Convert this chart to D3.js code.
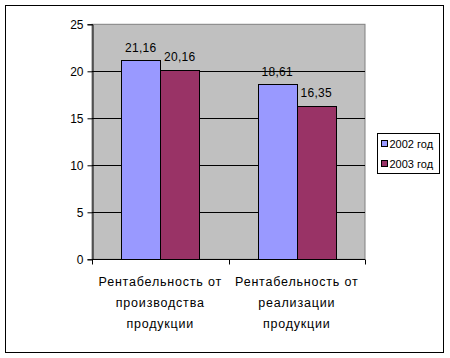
<!DOCTYPE html>
<html><head><meta charset="utf-8">
<script src="https://cdn.jsdelivr.net/npm/d3@7"></script>
<style>body{margin:0;background:#fff}svg text{font-family:"Liberation Sans",Arial,sans-serif;}</style>
</head><body>
<script>
const categories = [["Рентабельность от","производства","продукции"],["Рентабельность от","реализации","продукции"]];
const seriesNames = ["2002 год","2003 год"];
const values2002 = [21.16, 18.61];
const values2003 = [20.16, 16.35];
const labels2002 = ["21,16","18,61"];
const labels2003 = ["20,16","16,35"];
const yTicks = [0,5,10,15,20,25];
const colors = ["#9999ff","#993366"];

const W=450,H=358;
const svg=d3.select("body").append("svg").attr("width",W).attr("height",H);
svg.append("rect").attr("x",5.5).attr("y",5.5).attr("width",438).attr("height",347).attr("fill","#fff").attr("stroke","#000");

const pl=92, pr=365, pt=24.3, pb=259.3;
const x=d3.scaleBand().domain([0,1]).range([pl,pr]);
const y=d3.scaleLinear().domain([0,25]).range([pb,pt]);
const g=svg.append("g");
g.append("rect").attr("x",pl).attr("y",pt).attr("width",pr-pl).attr("height",pb-pt).attr("fill","#c0c0c0").attr("stroke","#808080");
yTicks.filter(t=>t>0&&t<25).forEach(t=>{
  g.append("line").attr("x1",pl).attr("x2",pr).attr("y1",Math.round(y(t))+0.5).attr("y2",Math.round(y(t))+0.5).attr("stroke","#000");
});
const bw=x.bandwidth()/3.5;
const series=[values2002,values2003], lbls=[labels2002,labels2003];
series.forEach((vals,si)=>{
  vals.forEach((v,ci)=>{
    const cx=x(ci)+x.bandwidth()/2;
    const bx=cx-bw+si*bw;
    g.append("rect").attr("x",Math.round(bx)+0.5).attr("y",Math.round(y(v))+0.5).attr("width",Math.round(bw)).attr("height",Math.round(y(0))-Math.round(y(v))).attr("fill",colors[si]).attr("stroke","#000");
    g.append("text").attr("x",bx+bw/2).attr("y",y(v)-8.5).attr("text-anchor","middle").attr("font-size",12).attr("letter-spacing","0.3px").text(lbls[si][ci]);
  });
});
// y axis
const ya=svg.append("g").attr("transform",`translate(${pl+0.5},0)`).call(d3.axisLeft(y).tickValues(yTicks).tickSize(5).tickPadding(4));
ya.select(".domain").attr("stroke","#000");
ya.selectAll("text").attr("font-size",12).attr("font-family","Liberation Sans, Arial, sans-serif");
// x axis
const xa=svg.append("g").attr("transform",`translate(0,${Math.round(pb)+0.5})`);
xa.append("line").attr("x1",pl).attr("x2",pr).attr("stroke","#000");
[pl,pl+x.bandwidth(),pr].forEach(v=>xa.append("line").attr("x1",Math.round(v)+0.5).attr("x2",Math.round(v)+0.5).attr("y1",0).attr("y2",5).attr("stroke","#000"));
categories.forEach((lines,ci)=>{
  const cx=x(ci)+x.bandwidth()/2;
  lines.forEach((l,li)=>{
    svg.append("text").attr("x",cx).attr("y",286+li*21).attr("text-anchor","middle").attr("font-size",12.5).attr("letter-spacing","0.8px").text(l);
  });
});
// legend
const lg=svg.append("g");
lg.append("rect").attr("x",377.5).attr("y",133.5).attr("width",62).attr("height",40).attr("fill","#fff").attr("stroke","#000");
seriesNames.forEach((n,i)=>{
  lg.append("rect").attr("x",381.5).attr("y",140.5+i*20).attr("width",6).attr("height",6).attr("fill",colors[i]).attr("stroke","#000");
  lg.append("text").attr("x",389.5).attr("y",148+i*20).attr("font-size",11).text(n);
});
</script>
</body></html>
